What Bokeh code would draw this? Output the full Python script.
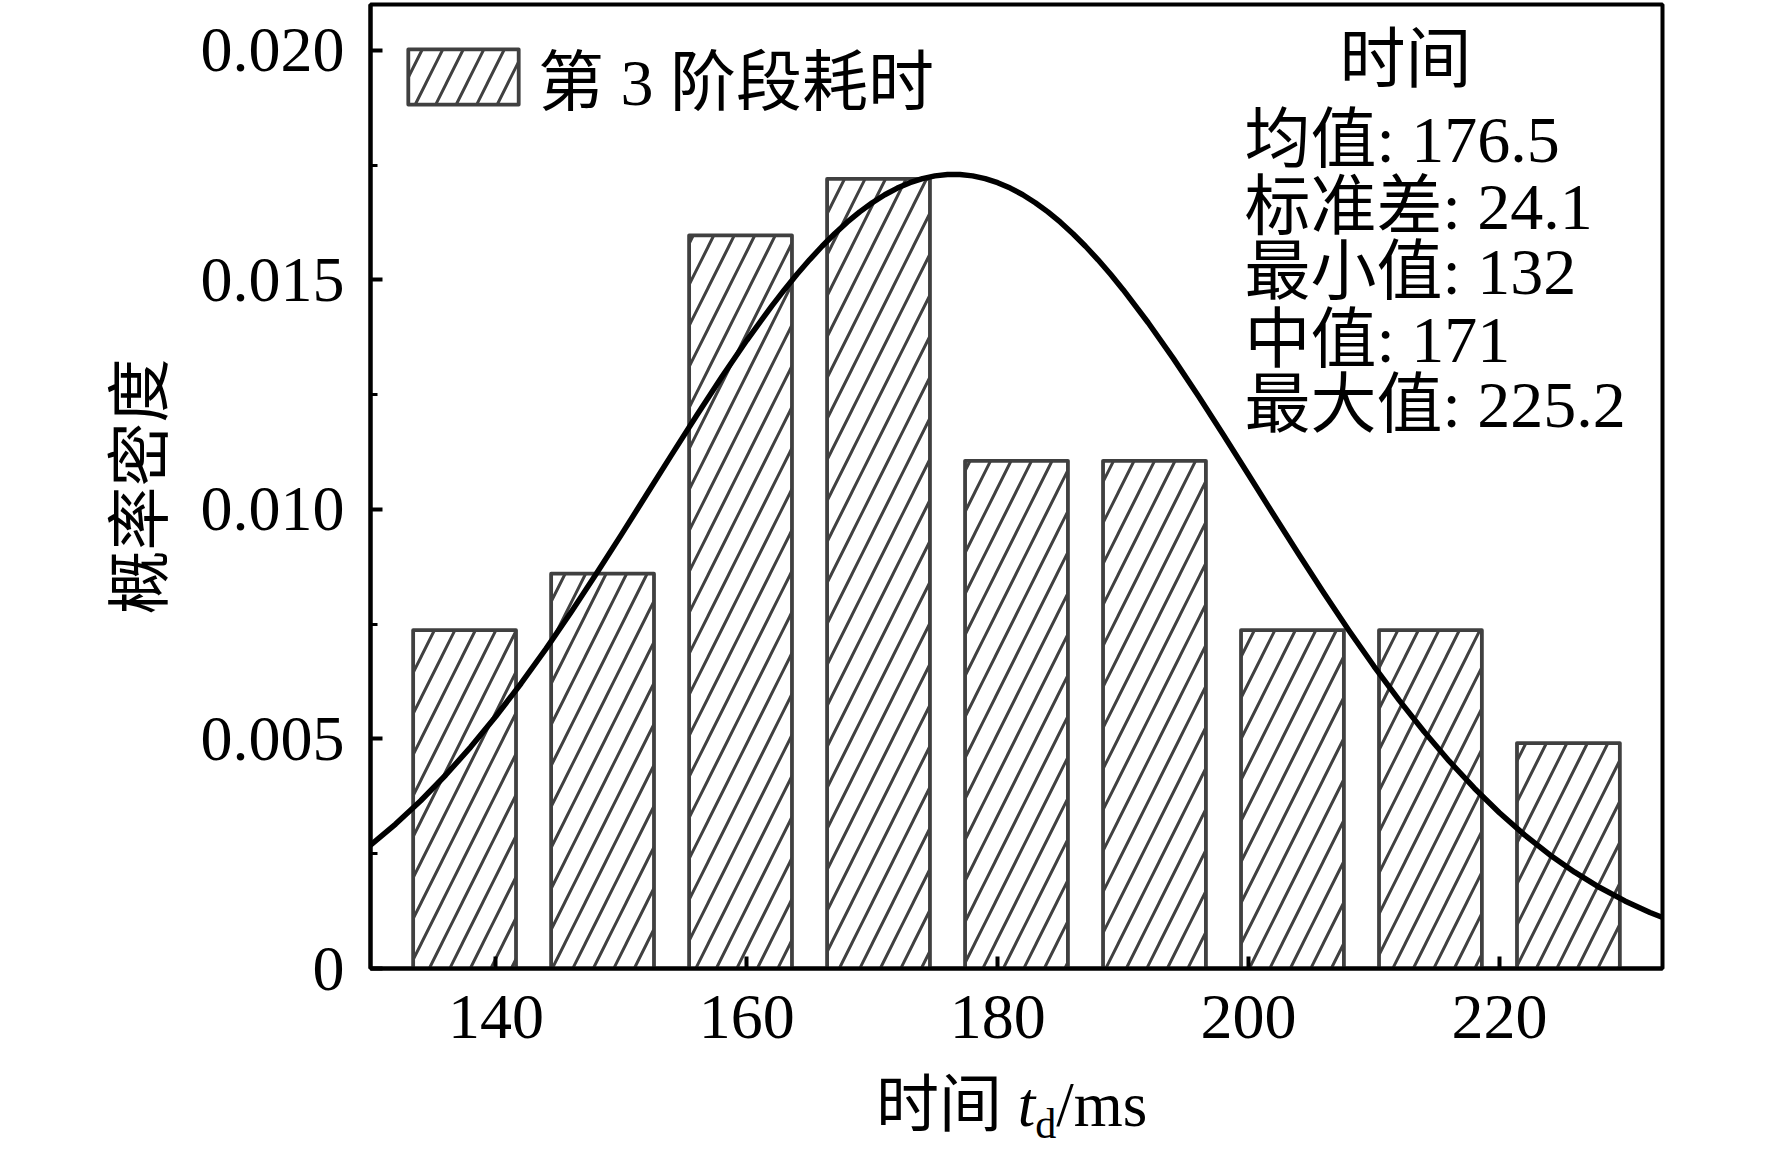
from bokeh.plotting import figure
from bokeh.layouts import column
from bokeh.models import FixedTicker, Label, Range1d, ColumnDataSource, Div
from bokeh.embed import file_html
from bokeh.resources import INLINE

# ---------------- data ----------------
bin_centers = [137.5, 148.5, 159.5, 170.5, 181.5, 192.5, 203.5, 214.5, 225.5]
density = [0.00737, 0.00860, 0.01597, 0.01720, 0.01106, 0.01106, 0.00737, 0.00737, 0.00491]

# fitted normal curve
curve_x = [130, 132, 134, 136, 138, 140, 142, 144, 146, 148, 150, 152, 154, 156, 158, 160, 162,
           163, 164, 165, 166, 167, 168, 169, 170, 171, 172, 173, 174, 175, 176,
           177, 178, 179, 180, 181, 182, 183, 184, 185, 186, 187, 188, 189, 190,
           192, 194, 196, 198, 200, 202, 204, 206, 208, 210, 212, 214, 216, 218,
           220, 222, 224, 226, 228, 230, 232, 234]
curve_y = [0.0026893, 0.0031455, 0.0036538, 0.0042151, 0.0048292, 0.0054949, 0.0062094,
           0.0069686, 0.0077670, 0.0085974, 0.0094513, 0.0103188, 0.0111885, 0.0120483,
           0.0128852, 0.0136855, 0.0144357,
           0.0147880, 0.0151227, 0.0154384, 0.0157336, 0.0160068, 0.0162567, 0.0164823,
           0.0166821, 0.0168553, 0.0170011, 0.0171184, 0.0172072, 0.0172665, 0.0172963,
           0.0172963, 0.0172665, 0.0172072, 0.0171184, 0.0170011, 0.0168553, 0.0166821,
           0.0164823, 0.0162567, 0.0160068, 0.0157336, 0.0154384, 0.0151227, 0.0147880,
           0.0140678, 0.0132907, 0.0124704, 0.0116206, 0.0107541, 0.0098841, 0.0090220,
           0.0081787, 0.0073633, 0.0065837, 0.0058462, 0.0051557, 0.0045156, 0.0039278,
           0.0033930, 0.0029110, 0.0024803, 0.0020988, 0.0017638, 0.0014721, 0.0012202,
           0.0010045]

x_ticks = [140, 160, 180, 200, 220]
y_ticks = [0, 0.005, 0.010, 0.015, 0.020]
y_tick_labels = ["0", "0.005", "0.010", "0.015", "0.020"]
y_minor_ticks = [0.0025, 0.0075, 0.0125, 0.0175]

legend_text = "第 3 阶段耗时"
y_title = "概率密度"
x_title_cn = "时间"
x_title_var = "t"
x_title_sub = "d"
x_title_unit = "/ms"
stats_title = "时间"
stat_names = ["均值", "标准差", "最小值", "中值", "最大值"]
stat_values = ["176.5", "24.1", "132", "171", "225.2"]

# ---------------- layout ----------------
SERIF = "'Liberation Serif', 'Noto Sans CJK SC'"
CJK = "'Noto Sans CJK SC'"
BAR_W = 8.2
DARK = "#404040"

X0, X1 = 130, 233
Y0, Y1 = 0, 0.021
FL, FT, FW, FH = 370, 4, 1292, 964     # frame in canvas px
FR, FB = 58, 92
FIG_W = FL + FW + FR
FIG_H = FT + FH + FB

fig = figure(width=FIG_W, height=FIG_H,
             x_range=Range1d(X0, X1), y_range=Range1d(Y0, Y1),
             output_backend="svg", toolbar_location=None,
             min_border_left=FL, min_border_top=FT,
             min_border_right=FR, min_border_bottom=FB)
fig.background_fill_color = "white"
fig.border_fill_color = "white"
fig.grid.visible = False
fig.outline_line_color = "black"
fig.outline_line_width = 4


def px_x(page_x):
    return X0 + (page_x - FL) * (X1 - X0) / FW


def px_y(page_y):
    return Y0 + ((FT + FH) - page_y) * (Y1 - Y0) / FH


fig.vbar(x=bin_centers, top=density, bottom=0, width=BAR_W,
         fill_color="white", line_color=DARK, line_width=3.8, line_join="round",
         hatch_pattern="/", hatch_color=DARK, hatch_weight=3, hatch_scale=41,
         legend_label=legend_text)

curve_src = ColumnDataSource(data=dict(x=curve_x, y=curve_y))
fig.line(x="x", y="y", source=curve_src, line_color="black", line_width=5.5,
         line_join="round", line_cap="round")

# axes
for ax in (fig.xaxis[0], fig.yaxis[0]):
    ax.axis_line_width = 4
    ax.axis_line_color = "black"
    ax.major_tick_line_width = 4
    ax.major_tick_line_color = "black"
    ax.major_tick_in = 12
    ax.major_tick_out = 0
    ax.minor_tick_in = 7
    ax.minor_tick_out = 0
    ax.minor_tick_line_width = 3
    ax.minor_tick_line_color = "black"
    ax.major_label_text_font = "Liberation Serif"
    ax.major_label_text_font_size = "64px"
    ax.major_label_text_color = "black"

fig.xaxis.ticker = FixedTicker(ticks=x_ticks, minor_ticks=[])
fig.xaxis.major_label_standoff = 27
fig.yaxis.ticker = FixedTicker(ticks=y_ticks, minor_ticks=y_minor_ticks)
fig.yaxis.major_label_overrides = {float(k): v for k, v in zip(y_ticks, y_tick_labels)}
fig.yaxis.major_label_standoff = 26
fig.yaxis.axis_label = y_title
fig.yaxis.axis_label_text_font = CJK
fig.yaxis.axis_label_text_font_size = "64px"
fig.yaxis.axis_label_text_font_style = "normal"
fig.yaxis.axis_label_text_color = "black"
fig.yaxis.axis_label_standoff = 18

# legend
lg = fig.legend[0]
lg.location = "top_left"
lg.margin = 0
lg.padding = 24
lg.glyph_width = 138
lg.glyph_height = 69
lg.label_standoff = 6
lg.label_text_font = SERIF
lg.label_text_font_size = "66px"
lg.label_text_color = "black"
lg.border_line_alpha = 0
lg.background_fill_alpha = 0

# statistics text
fig.add_layout(Label(x=px_x(1405), y=px_y(59), text=stats_title, text_align="center",
                     text_baseline="middle", text_font=SERIF, text_font_size="66px",
                     text_color="black"))
line_y = [139, 206, 271, 339, 404]
for name, val, ly in zip(stat_names, stat_values, line_y):
    fig.add_layout(Label(x=px_x(1244), y=px_y(ly), text=f"{name}: {val}",
                         text_align="left", text_baseline="middle", text_font=SERIF,
                         text_font_size="66px", text_color="black"))

# x axis title: 时间 t_d/ms  (HTML text under the figure)
DIV_H = 88
title_html = (
    f'<div style="position:relative;width:{FIG_W}px;height:{DIV_H}px;">'
    f'<div style="position:absolute;left:876px;top:14px;white-space:nowrap;'
    f"font-family:'Liberation Serif','Noto Sans CJK SC';font-size:63px;"
    f'line-height:62px;color:black;">'
    f'{x_title_cn} <i>{x_title_var}</i>'
    f'<span style="font-size:42px;vertical-align:-12px;">{x_title_sub}</span>'
    f'{x_title_unit}</div></div>'
)
xtitle = Div(text=title_html, width=FIG_W, height=DIV_H, margin=0)

p = column(fig, xtitle, spacing=0)

open("out.html", "w").write(file_html(p, INLINE))
